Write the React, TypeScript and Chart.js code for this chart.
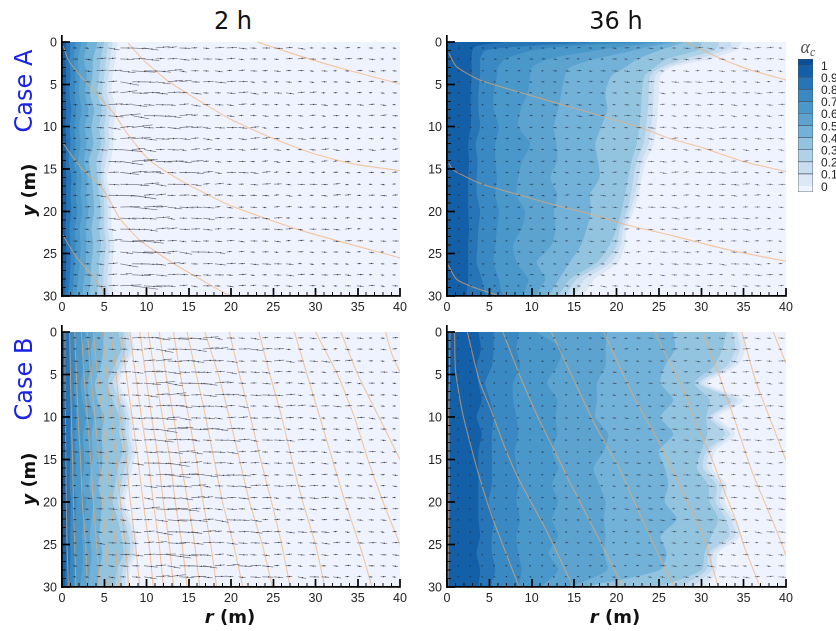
import React, { useEffect, useRef } from "react";
import { Chart, registerables } from "chart.js";

Chart.register(...registerables);

const FONT = "'Liberation Sans', Arial, sans-serif";

const xMajor = [0, 5, 10, 15, 20, 25, 30, 35, 40];
const xMinor = [1, 2, 3, 4, 6, 7, 8, 9, 11, 12, 13, 14, 16, 17, 18, 19, 21, 22, 23, 24, 26, 27, 28, 29, 31, 32, 33, 34, 36, 37, 38, 39];
const yMajor = [0, 5, 10, 15, 20, 25, 30];
const yMinor = [1, 2, 3, 4, 6, 7, 8, 9, 11, 12, 13, 14, 16, 17, 18, 19, 21, 22, 23, 24, 26, 27, 28, 29];

const legendTicks = [0, 0.1, 0.2, 0.3, 0.4, 0.5, 0.6, 0.7, 0.8, 0.9, 1];
const legendEdges = [-0.05, 0, 0.1, 0.2, 0.3, 0.4, 0.5, 0.6, 0.7, 0.8, 0.9, 1, 1.05];
const legendColors = ["#eff3ff", "#dde8f7", "#c9ddf0", "#b0d2e8", "#93c4df", "#72b1d8", "#5ca3d0", "#4a97c9", "#3a89c2", "#2775b6", "#1460a8", "#084f99"];
const PANEL_BG = "#eff3ff";

// contour levels, lowest (alpha = 0) first; each list is r(m) at the matching y
const yEven = [0, 2, 4, 6, 8, 10, 12, 14, 16, 18, 20, 22, 24, 26, 28, 30];
const yCaseA36 = [0, 0.5, 1, 2, 3, 4, 6, 8, 10, 12, 14, 16, 18, 20, 22, 24, 26, 28, 29, 30];

const caseA2h = [
  [6.6, 6.3, 6, 5.9, 6.4, 6.1, 6.1, 5.8, 5.3, 5.7, 5.8, 5.9, 6.2, 6, 5.9, 6.2],
  [6, 5.7, 5.5, 5.3, 5.8, 5.5, 5.6, 5.2, 4.9, 5.3, 5.4, 5.4, 5.7, 5.5, 5.4, 5.5],
  [5.5, 5.2, 5, 4.8, 5.3, 5, 5.1, 4.7, 4.6, 4.9, 5, 5, 5.2, 5, 4.9, 4.9],
  [5, 4.6, 4.4, 4.2, 4.7, 4.4, 4.6, 4.1, 4.2, 4.4, 4.6, 4.4, 4.6, 4.4, 4.3, 4.2],
  [4.2, 3.7, 3.6, 3.3, 3.8, 3.5, 3.7, 3.2, 3.5, 3.7, 3.8, 3.5, 3.7, 3.5, 3.4, 3.2],
  [3, 2.6, 2.9, 2.7, 3.1, 2.7, 2.9, 2.6, 3, 2.9, 3.1, 2.8, 2.9, 2.8, 2.6, 2.4],
  [2.3, 1.9, 2.1, 2, 2.3, 2, 2.2, 1.9, 2.3, 2.2, 2.4, 2.1, 2.2, 2.1, 1.9, 1.7],
  [1.6, 1.4, 1.6, 1.5, 1.7, 1.5, 1.6, 1.4, 1.7, 1.6, 1.8, 1.5, 1.6, 1.5, 1.4, 1.2],
  [1, 0.9, 1, 0.9, 1.1, 0.9, 1, 0.8, 1.1, 1, 1.1, 0.9, 1, 1, 0.9, 0.7],
  [0.5, 0.4, 0.5, 0.4, 0.5, 0.4, 0.5, 0.4, 0.5, 0.5, 0.5, 0.4, 0.5, 0.5, 0.4, 0.3],
];

const caseA36h = [
  [34.8, 34.5, 34, 31, 26.5, 25.2, 25, 24.9, 24.7, 24.4, 23.5, 23, 22.6, 22, 21.2, 21, 20.2, 17.4, 16.7, 16],
  [33.5, 33.5, 32.8, 29.5, 25.8, 24.6, 24.4, 24.3, 24.1, 23.8, 23, 22.6, 22.2, 21.6, 20.8, 20.5, 19.4, 16.3, 15.6, 15],
  [32, 32, 31.5, 28, 25.2, 24, 23.8, 23.7, 23.5, 23.2, 22.4, 22, 21.7, 21.2, 20.4, 20, 18.6, 15.3, 14.6, 14],
  [30, 30, 29.5, 26, 24.5, 23.3, 23, 22.9, 22.7, 22.4, 21.8, 21.4, 21, 20.6, 20, 19.2, 17.7, 14.5, 13.8, 13],
  [28, 26.5, 25, 22.5, 21, 19.4, 18.7, 18.9, 18.2, 17.5, 17.8, 18, 16.9, 17, 16.5, 15.8, 14.5, 13.2, 12.6, 12],
  [27, 24, 22, 17.5, 14.5, 13.9, 13.5, 13.1, 12.6, 12.9, 13, 12.2, 13, 12.6, 12.8, 12.3, 10.6, 11.6, 11, 10.5],
  [25.6, 21, 17.5, 12, 10, 9.8, 9.5, 8.7, 8.4, 9.8, 8.9, 8.4, 8.2, 9.2, 8.8, 7.8, 8.2, 9.6, 9.3, 9],
  [23.6, 14, 10, 6.9, 6, 5.9, 5.5, 5.5, 6.1, 5.7, 5.7, 5.9, 5.7, 6.1, 5.9, 5.7, 5.5, 6.1, 6.3, 6.6],
  [17.7, 9, 4.5, 3.9, 3.9, 3.9, 3.7, 3.7, 3.9, 3.4, 3.6, 3.5, 3.5, 3.9, 3.7, 3.6, 3.5, 4.1, 4.3, 4.6],
  [6.8, 3.4, 3, 2.9, 2.9, 2.9, 2.8, 2.8, 2.8, 2.5, 2.6, 2.5, 2.5, 2.5, 2.6, 2.5, 2.5, 2.5, 2.4, 2.3],
];

const caseB2h = [
  [8.2, 8.5, 7.6, 6.8, 7.6, 8.3, 8.3, 8.7, 8.3, 7.9, 7.4, 8.2, 8.8, 8.8, 8, 7.9],
  [7.8, 8.1, 7.2, 6.4, 7.2, 7.9, 7.9, 8.3, 7.9, 7.5, 7, 7.8, 8.4, 8.4, 7.6, 7.5],
  [7.3, 7.6, 6.8, 6, 6.8, 7.5, 7.5, 7.9, 7.4, 7, 6.6, 7.3, 7.9, 8, 7.2, 7],
  [6.7, 7, 6.2, 5.4, 6, 6.8, 6.8, 7.2, 6.6, 6.3, 6, 6.6, 7, 7.3, 6.5, 6.3],
  [5, 4.9, 4.6, 3.9, 4.2, 5, 4.7, 4.8, 4.7, 4.3, 4.7, 4.6, 4.4, 4.8, 4.4, 4.2],
  [3.9, 3.4, 3.5, 3, 3.2, 3.8, 3.5, 3.6, 3.5, 3.2, 3.7, 3.5, 3.3, 3.5, 3.3, 3.1],
  [2.7, 2.4, 2.6, 2.2, 2.4, 2.8, 2.5, 2.6, 2.6, 2.3, 2.8, 2.6, 2.4, 2.5, 2.4, 2.1],
  [1.6, 1.5, 1.6, 1.4, 1.5, 1.7, 1.5, 1.6, 1.6, 1.4, 1.7, 1.6, 1.5, 1.6, 1.5, 1.3],
  [1, 0.95, 1, 0.9, 1, 1.05, 0.95, 1, 0.95, 0.9, 1.05, 1, 0.95, 1, 0.95, 0.8],
  [0.45, 0.4, 0.5, 0.4, 0.5, 0.45, 0.4, 0.5, 0.45, 0.4, 0.5, 0.5, 0.4, 0.45, 0.4, 0.35],
];

const caseB36h = [
  [34.7, 35.2, 34.2, 30.7, 35, 32, 34, 31.7, 31.3, 33, 32.8, 34, 34.6, 32, 31.8, 30.6],
  [34.2, 34.6, 33.6, 30.1, 34.3, 31.4, 33.4, 31.1, 30.7, 32.4, 32.2, 33.5, 34, 31.4, 31.2, 29],
  [33.7, 34, 33, 29.7, 33.6, 31, 32.8, 30.6, 30.2, 31.8, 31.7, 32.9, 33.3, 30.9, 30.6, 27.5],
  [33, 32.5, 31.5, 29.2, 31, 30.6, 30.7, 30, 29.5, 30.8, 31, 32, 31.2, 30.4, 30, 25],
  [26.7, 26.9, 25.7, 25.2, 26.7, 25.2, 26.7, 25, 25.7, 26.1, 25.7, 27.1, 25.2, 25.9, 25.1, 16],
  [18.9, 18.7, 18.7, 17.7, 17.7, 17.5, 19, 18.5, 17.3, 18, 18.7, 18.5, 18.7, 18.5, 18.9, 14.5],
  [10.6, 13.5, 13, 11.8, 13, 12.8, 13, 12.4, 13.1, 12.4, 13.1, 12.4, 13.1, 12, 13.1, 11],
  [8.5, 8.2, 8.6, 7.8, 7.8, 8.2, 8.4, 8, 8.2, 8.4, 8.2, 8.6, 8.2, 8.4, 8.8, 8.4],
  [5.5, 5.5, 5.3, 4.5, 5.1, 5.5, 5.3, 5.3, 5.3, 5.3, 4.9, 5.5, 5.3, 5.3, 5.7, 5.1],
  [3.7, 4, 3.5, 3.7, 4.1, 3.5, 4.1, 3.7, 3.7, 3.7, 3.7, 3.7, 3.9, 3.5, 3.9, 3.7],
];

// orange curves, as [r, y] lists
const curvesA2h = [
  [[23.1, 0], [28, 1.6], [33, 3.1], [40, 4.95]],
  [[7.85, 0.15], [9.6, 2.1], [12.4, 4.5], [14.7, 6], [19.9, 9.1], [25, 11.4], [29.8, 13.2], [34.5, 14.4], [40, 15.2]],
  [[0.15, 0.5], [0.75, 2.1], [2.1, 3.9], [4.1, 6.1], [6.1, 8.4], [8, 11.2], [10.4, 14], [14.3, 16.5], [19.9, 19.3], [28.1, 22.2], [40, 25.5]],
  [[0.1, 11.9], [1.5, 13.9], [2.5, 15.1], [4.5, 16.9], [5.7, 18.8], [6.8, 20.8], [9.2, 23.4], [13.1, 26.1], [17.9, 28.9], [19.9, 30]],
  [[0.1, 22.8], [1.7, 25.4], [3.7, 27.7], [5.1, 29.7]],
];
const curvesA36h = [
  [[28.2, 0], [32.6, 2.1], [35.8, 3.3], [40, 4.5]],
  [[0.2, 1.3], [1.1, 2.9], [3.9, 4.5], [9.8, 6.3], [15.7, 8], [22.8, 10.1], [26.3, 11.4], [30.2, 12.5], [34.9, 14.1], [40, 15.3]],
  [[0.2, 14.3], [0.7, 15.1], [3.9, 16.7], [8.3, 18], [12.5, 19.2], [17.2, 20.4], [21.2, 21.6], [26.3, 22.8], [33, 24.5], [40, 25.9]],
  [[0.1, 26.3], [1.1, 28], [2.7, 28.8], [5.9, 29.9]],
];
const curveYs = [0, 5, 10, 15, 20, 25, 30];
const curvesB2hR = [
  [0.35, 0.35, 0.4, 0.45, 0.5, 0.6, 0.75],
  [0.9, 1, 1.1, 1.25, 1.35, 1.5, 1.65],
  [1.5, 1.7, 1.9, 2.2, 2.4, 2.8, 3],
  [2.3, 2.6, 3, 3.4, 3.7, 4.1, 4.4],
  [3, 3.4, 3.9, 4.4, 4.8, 5.2, 5.5],
  [3.7, 4.2, 4.8, 5.3, 5.8, 6.3, 6.7],
  [4.8, 5.3, 5.8, 6.4, 6.9, 7.5, 7.9],
  [5.8, 6.4, 6.9, 7.6, 8.1, 8.7, 9.2],
  [7, 7.6, 8.3, 9, 9.6, 10.3, 10.8],
  [8, 8.7, 9.4, 10.2, 10.8, 11.5, 12],
  [9.2, 9.9, 10.6, 11.4, 12, 12.7, 13.2],
  [10.2, 11, 11.9, 12.8, 13.4, 14.2, 14.8],
  [11.5, 12.3, 13.2, 14, 14.9, 15.7, 16.3],
  [13.2, 14, 15, 15.9, 16.7, 17.6, 18.3],
  [14.8, 15.9, 17, 18, 19, 20.3, 21.4],
  [16.9, 18.5, 19.8, 21, 22.2, 23.7, 24.9],
  [19.8, 21, 22.3, 23.5, 24.8, 26, 27],
  [23.3, 24.6, 26, 27.2, 28.5, 30, 31.1],
  [27.5, 29, 30.5, 32, 33.5, 35.2, 36.7],
];
const curvesB2hEnds = [
  [[30, 0], [32.6, 5], [34.6, 10], [36.2, 15], [38, 20], [40, 25]],
  [[33, 0], [35, 5], [37.5, 10], [40, 15]],
  [[38.3, 0], [39, 2.5], [40, 4.7]],
];
const curvesB36h = [
  [[0.35, 0], [0.3, 5], [0.2, 10], [0.25, 17], [0.1, 30]],
  [[0.9, 0], [1, 4.5], [1.85, 9.6], [3.6, 16.3], [5.2, 21.4], [8.5, 30]],
  [[2.4, 0], [3.8, 5.7], [5.2, 9.2], [6.8, 13.5], [8.3, 17], [11.7, 23.3], [14.8, 29.8]],
  [[6.6, 0], [8.5, 4.9], [10.9, 10.4], [12.9, 14.4], [14.4, 17.5], [17.6, 23.7], [20.7, 29.8]],
  [[12.3, 0], [14.8, 5.3], [17.4, 10.8], [20.4, 16.2], [22.7, 21.3], [26, 28.4], [26.9, 30]],
  [[18.5, 0], [21.5, 6.5], [23.1, 9.6], [25.1, 13.1], [27.9, 19], [30, 23.4], [32, 29.9]],
  [[24.5, 0], [26.7, 4.5], [27.9, 6.8], [29.4, 10.8], [31, 14.3], [32.4, 17.9], [34.1, 22.2], [35.1, 25.3], [36.9, 29.9]],
  [[30.2, 0], [32.2, 5.3], [34.1, 10.8], [36.1, 16.7], [38.9, 23.4], [40, 26.3]],
  [[34.8, 0], [36.4, 5.7], [38.5, 11.2], [40, 15.1]],
  [[38.5, 0], [40, 3.7]],
];

// velocity vectors: grid, length per column (m) and small variation tables
const vecR = [1.3, 2.7, 4.1, 5.5, 6.9, 8.3, 9.7, 11.1, 12.5, 13.9, 15.3, 16.7, 18.1, 19.5, 20.9, 22.3, 23.7, 25.1, 26.5, 27.9, 29.3, 30.7, 32.1, 33.5, 34.9, 36.3, 37.7, 39.1];
const vecY = [0.7, 2, 3.4, 4.7, 6, 7.4, 8.7, 10.1, 11.4, 12.7, 14.1, 15.4, 16.8, 18.1, 19.5, 20.8, 22.1, 23.5, 24.8, 26.2, 27.5, 28.8];
const lenA2h = [0.45, 0.7, 0.9, 1.3, 2.0, 2.2, 1.8, 1.5, 1.35, 1.2, 1.1, 1, 0.95, 0.9, 0.85, 0.8, 0.75, 0.75, 0.7, 0.7, 0.65, 0.65, 0.65, 0.6, 0.6, 0.6, 0.55, 0.55];
const lenA36h = [0.15, 0.2, 0.25, 0.3, 0.35, 0.35, 0.4, 0.4, 0.45, 0.45, 0.5, 0.5, 0.55, 0.55, 0.6, 0.6, 0.65, 0.65, 0.7, 0.7, 0.7, 0.7, 0.7, 0.7, 0.7, 0.65, 0.65, 0.6];
const lenB2h = [0.5, 0.6, 0.7, 0.8, 0.9, 1.1, 1.5, 1.9, 2, 1.8, 1.6, 1.4, 1.3, 1.2, 1.1, 1.05, 1, 0.9, 0.85, 0.8, 0.8, 0.75, 0.7, 0.7, 0.7, 0.65, 0.65, 0.6];
const lenB36h = [0.05, 0.1, 0.12, 0.15, 0.15, 0.2, 0.2, 0.25, 0.25, 0.3, 0.3, 0.35, 0.35, 0.4, 0.45, 0.45, 0.5, 0.55, 0.55, 0.6, 0.6, 0.65, 0.7, 0.7, 0.7, 0.7, 0.7, 0.7];
const vecStretch = [1, 0.8, 1.25, 0.7, 1.1, 1.4, 0.9, 0.65, 1.2, 1, 0.75, 1.3, 0.85, 1.15, 0.7, 1.05, 1.35, 0.8, 0.95, 1.2, 0.7, 1.1, 0.9];
const vecSlope = [0.02, -0.1, 0.13, 0.05, -0.07, 0.18, -0.03, 0.09, -0.13, 0.06, 0.15, -0.05, 0.01, 0.11, -0.09, 0.04];

function contourSets(levels: number[][], ys: number[]) {
  return levels
    .map((rs, i) => ({
      label: "alpha " + (i / 10).toFixed(1),
      data: rs.map((r, k) => ({ x: r, y: ys[k] })),
      borderWidth: 0,
      borderColor: "rgba(0,0,0,0)",
      backgroundColor: legendColors[i + 1],
      fill: { value: 0 },
      pointRadius: 0,
      tension: 0.25,
    }))
    .reverse();
}

function curveSets(curves: number[][][]) {
  return curves.map((c, i) => ({
    label: "curve " + i,
    data: c.map(([x, y]) => ({ x, y })),
    borderColor: "rgba(245,170,100,0.62)",
    borderWidth: 1.1,
    fill: false,
    pointRadius: 0,
    tension: 0.2,
  }));
}

function vectorSets(lens: number[], seed: number, alpha: number) {
  const lines: { x: number; y: number }[] = [];
  const heads: { x: number; y: number }[] = [];
  vecY.forEach((y, i) =>
    vecR.forEach((r, j) => {
      const s = vecStretch[(i * 5 + j * 3 + seed) % vecStretch.length];
      const t = vecSlope[(i * 3 + j * 7 + seed) % vecSlope.length] + seed * 0.01;
      const l = lens[j] * s;
      lines.push({ x: r, y }, { x: r + l, y: y + l * t }, { x: NaN, y: NaN });
      heads.push({ x: r + l * 0.55, y: y + l * t * 0.55 });
    })
  );
  return [
    { label: "vector heads", data: heads, showLine: false, pointRadius: 0.7, pointBorderWidth: 0, pointBackgroundColor: `rgba(25,25,35,${alpha})`, fill: false },
    { label: "vectors", data: lines, borderColor: `rgba(45,45,55,${alpha})`, borderWidth: 0.65, pointRadius: 0, fill: false, spanGaps: false, tension: 0 },
  ];
}

const backgroundSet = {
  label: "background",
  data: [{ x: 40, y: 0 }, { x: 40, y: 30 }],
  borderWidth: 0,
  borderColor: "rgba(0,0,0,0)",
  backgroundColor: PANEL_BG,
  fill: { value: 0 },
  pointRadius: 0,
};

const AXIS_W = 55;
const AXIS_H = 26;
const Y_MIN = -0.826;

function fitTo(prop: "width" | "height", size: number) {
  return (s: any) => {
    s[prop] = size;
    s.paddingLeft = s.paddingRight = s.paddingTop = s.paddingBottom = 0;
  };
}

const tickFont = { family: FONT, size: 12.5 };

function panelOptions() {
  const minor = {
    weight: -1,
    grid: { drawOnChartArea: false, drawTicks: true, tickLength: -4, tickColor: "#111", tickWidth: 1, z: 1 },
    border: { display: false },
    ticks: { display: false },
  };
  const major = {
    grid: { drawOnChartArea: false, drawTicks: true, tickLength: -8, tickColor: "#000", tickWidth: 1.7, z: 1 },
    border: { display: true, color: "#000", width: 1.7, z: 2 },
  };
  return {
    responsive: false,
    animation: false as const,
    devicePixelRatio: 2,
    indexAxis: "y" as const,
    events: [],
    layout: { autoPadding: false, padding: { right: 14, left: 0, top: 0, bottom: 0 } },
    plugins: { legend: { display: false }, tooltip: { enabled: false } },
    scales: {
      x: {
        type: "linear", position: "bottom", min: 0, max: 40, ...major,
        afterBuildTicks: (s: any) => { s.ticks = xMajor.map((value) => ({ value })); },
        afterFit: fitTo("height", AXIS_H),
        ticks: { color: "#222", font: tickFont, padding: 12, maxRotation: 0, autoSkip: false, z: 2, callback: (v: any) => String(v) },
      },
      y: {
        type: "linear", position: "left", reverse: true, min: Y_MIN, max: 30, ...major,
        afterBuildTicks: (s: any) => { s.ticks = yMajor.map((value) => ({ value })); },
        afterFit: fitTo("width", AXIS_W),
        ticks: { color: "#222", font: tickFont, padding: 13, labelOffset: 1, autoSkip: false, z: 2, callback: (v: any) => String(v) },
      },
      xMinorAxis: {
        axis: "x", type: "linear", position: "bottom", min: 0, max: 40, ...minor,
        afterBuildTicks: (s: any) => { s.ticks = xMinor.map((value) => ({ value })); },
        afterFit: fitTo("height", 0),
      },
      yMinorAxis: {
        axis: "y", type: "linear", position: "left", reverse: true, min: Y_MIN, max: 30, ...minor,
        afterBuildTicks: (s: any) => { s.ticks = yMinor.map((value) => ({ value })); },
        afterFit: fitTo("width", 0),
      },
    },
  };
}

function Panel({ left, top, areaW, areaH, datasets }: { left: number; top: number; areaW: number; areaH: number; datasets: any[] }) {
  const ref = useRef<HTMLCanvasElement>(null);
  useEffect(() => {
    const chart = new Chart(ref.current!, { type: "line", data: { datasets }, options: panelOptions() as any });
    return () => chart.destroy();
  }, []);
  return (
    <canvas
      ref={ref}
      width={AXIS_W + areaW + 14}
      height={areaH + AXIS_H}
      style={{ position: "absolute", left: left - AXIS_W, top, width: AXIS_W + areaW + 14, height: areaH + AXIS_H }}
    />
  );
}

function ColorBar() {
  const ref = useRef<HTMLCanvasElement>(null);
  useEffect(() => {
    const chart = new Chart(ref.current!, {
      type: "bar",
      data: {
        labels: ["alpha"],
        datasets: legendColors.map((c, i) => ({
          label: String(legendEdges[i]),
          data: [[legendEdges[i], legendEdges[i + 1]]],
          backgroundColor: c,
          borderColor: "#4a4f58",
          borderWidth: 0.7,
          barPercentage: 1,
          categoryPercentage: 1,
        })),
      } as any,
      options: {
        responsive: false,
        animation: false,
        devicePixelRatio: 2,
        events: [],
        plugins: { legend: { display: false }, tooltip: { enabled: false } },
        layout: { autoPadding: false, padding: 0 },
        scales: {
          x: { display: false, stacked: true },
          y: {
            position: "right", min: -0.05, max: 1.05,
            grid: { display: false },
            border: { display: false },
            afterBuildTicks: (s: any) => { s.ticks = legendTicks.map((value) => ({ value })); },
            afterFit: fitTo("width", 23),
            ticks: { color: "#222", font: { family: FONT, size: 12 }, padding: 0, labelOffset: 1.5, autoSkip: false, callback: (v: any) => String(v) },
          },
        },
      } as any,
    });
    return () => chart.destroy();
  }, []);
  return <canvas ref={ref} width={38} height={133} style={{ position: "absolute", left: 798, top: 59, width: 38, height: 133 }} />;
}

const centered = (x: number, y: number, extra: React.CSSProperties, rot = false): React.CSSProperties => ({
  position: "absolute",
  left: x,
  top: y,
  whiteSpace: "nowrap",
  lineHeight: 1,
  transform: rot ? "translate(-50%,-50%) rotate(-90deg)" : "translate(-50%,-50%)",
  fontFamily: "'DejaVu Sans', sans-serif",
  ...extra,
});

const bold: React.CSSProperties = { fontWeight: 700, fontSize: 18, color: "#111" };
const head: React.CSSProperties = { fontSize: 24, color: "#111" };
const caseStyle: React.CSSProperties = { fontSize: 24, color: "#1a22e6" };

export default function App() {
  return (
    <div style={{ position: "absolute", left: 0, top: 0, width: 836, height: 631, background: "#fff", overflow: "hidden" }}>
      <Panel left={62} top={35} areaW={338} areaH={261} datasets={[...vectorSets(lenA2h, 0, 0.7), ...curveSets(curvesA2h), ...contourSets(caseA2h, yEven), backgroundSet]} />
      <Panel left={447} top={35} areaW={339} areaH={261} datasets={[...vectorSets(lenA36h, 2, 0.55), ...curveSets(curvesA36h), ...contourSets(caseA36h, yCaseA36), backgroundSet]} />
      <Panel
        left={62}
        top={325}
        areaW={338}
        areaH={262}
        datasets={[
          ...vectorSets(lenB2h, 1, 0.7),
          ...curveSets(curvesB2hR.map((rs) => rs.map((r, k) => [r, curveYs[k]]))),
          ...curveSets(curvesB2hEnds),
          ...contourSets(caseB2h, yEven),
          backgroundSet,
        ]}
      />
      <Panel left={447} top={325} areaW={339} areaH={262} datasets={[...vectorSets(lenB36h, 3, 0.55), ...curveSets(curvesB36h), ...contourSets(caseB36h, yEven), backgroundSet]} />
      <ColorBar />

      <div style={centered(233, 21, head)}>2 h</div>
      <div style={centered(616, 21, head)}>36 h</div>
      <div style={centered(24, 91, caseStyle, true)}>Case A</div>
      <div style={centered(24, 379, caseStyle, true)}>Case B</div>
      <div style={centered(29, 190, bold, true)}><i>y</i> (m)</div>
      <div style={centered(29, 479, bold, true)}><i>y</i> (m)</div>
      <div style={centered(230, 617, bold)}><i>r</i> (m)</div>
      <div style={centered(615, 617, bold)}><i>r</i> (m)</div>
      <div style={centered(808, 47, { fontFamily: "'Liberation Serif', serif", fontStyle: "italic", fontSize: 18, color: "#555" })}>
        α<sub style={{ fontSize: 12, verticalAlign: "-3px", lineHeight: 0 }}>c</sub>
      </div>
    </div>
  );
}
